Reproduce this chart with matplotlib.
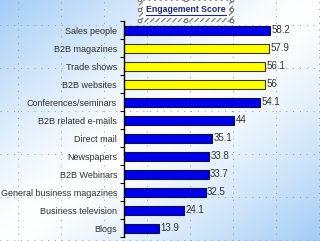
import matplotlib
matplotlib.use("Agg")
import matplotlib.pyplot as plt
import numpy as np
from matplotlib.patches import Rectangle, Circle
from matplotlib.lines import Line2D

plt.rcParams["font.family"] = ["Liberation Sans", "DejaVu Sans"]

# data, top to bottom
categories = ["Sales people", "B2B magazines", "Trade shows", "B2B websites",
              "Conferences/seminars", "B2B related e-mails", "Direct mail",
              "Newspapers", "B2B Webinars", "General business magazines",
              "Business television", "Blogs"]
scores = [58.2, 57.9, 56.1, 56, 54.1, 44, 35.1, 33.8, 33.7, 32.5, 24.1, 13.9]
highlight = [False, True, True, True, False, False, False, False, False, False, False, False]
title = "Engagement Score"

W, H = 320, 241
fig = plt.figure(figsize=(W / 100, H / 100), dpi=100)

# slide background: diagonal blue-white gradient
bg = fig.add_axes([0, 0, 1, 1], zorder=-5)
xx, yy = np.meshgrid(np.linspace(0, 1, W), np.linspace(0, 1, H))
t = np.clip(np.abs(xx + yy - 1.0), 0, 1) ** 1.3
blue = np.array([0.64, 0.80, 0.96])
img = (1 - t[..., None]) * np.ones(3) + t[..., None] * blue
bg.imshow(img, extent=[0, W, H, 0], aspect="auto")
bg.set_xlim(0, W)
bg.set_ylim(H, 0)
bg.axis("off")

# dotted slide grid
for gx in np.arange(18, W, 43):
    bg.axvline(gx, color="#8a9aa8", lw=0.7, ls=(0, (1, 6)))
for gy in np.arange(25, H, 43):
    bg.axhline(gy, color="#8a9aa8", lw=0.7, ls=(0, (1, 6)))

# title box with selection frame
bg.add_patch(Rectangle((139, -3), 94, 25, facecolor="white", edgecolor="#888888",
                       hatch="//////", lw=0, zorder=2))
bg.add_patch(Rectangle((143, 1), 86, 17, facecolor="white", lw=0, zorder=3))
for hx, hy in [(140, 0), (186, 0), (232, 0), (140, 10), (232, 10),
               (140, 21), (186, 21), (232, 21)]:
    bg.add_patch(Circle((hx, hy), 1.8, facecolor="white", edgecolor="#555555",
                        lw=0.6, zorder=4))
tt = bg.text(186, 10, title, ha="center", va="center", fontsize=6.3,
             fontweight="bold", color="#1c2a78", zorder=5)

# bar chart
ax = fig.add_axes([124 / W, 4 / H, (W - 124) / W, 216 / H])
ax.patch.set_alpha(0)
y = np.arange(len(categories))
colors = ["#ffff00" if h else "#0000e8" for h in highlight]
edges = ["#3a3a00" if h else "#10104a" for h in highlight]
ax.barh(y, scores, height=0.5, color=colors, edgecolor=edges, linewidth=0.8)
for yi, v in zip(y, scores):
    ax.text(v + 0.6, yi, f"{v:g}", va="center", ha="left", fontsize=7, color="#333333")

ax.set_xlim(0, (W - 124) / 2.51)
ax.set_ylim(len(categories) - 0.5, -0.5)
ax.set_yticks(y)
ax.set_yticklabels(categories, fontsize=6.5, color="#303030")
ax.set_yticks(np.arange(-0.5, len(categories)), minor=True)
ax.tick_params(axis="y", which="major", length=0, pad=5)
ax.tick_params(axis="y", which="minor", length=3, width=0.8, direction="out")
ax.set_xticks([])
for s in ["top", "right", "bottom"]:
    ax.spines[s].set_visible(False)
ax.spines["left"].set_linewidth(1.0)

# underline the title
fig.canvas.draw()
bb = tt.get_window_extent().transformed(bg.transData.inverted())
bg.add_line(Line2D([bb.x0, bb.x1], [bb.y0 + 0.3, bb.y0 + 0.3], color="#1c2a78",
                   lw=0.8, zorder=5))

fig.savefig("out.png", dpi=100)
